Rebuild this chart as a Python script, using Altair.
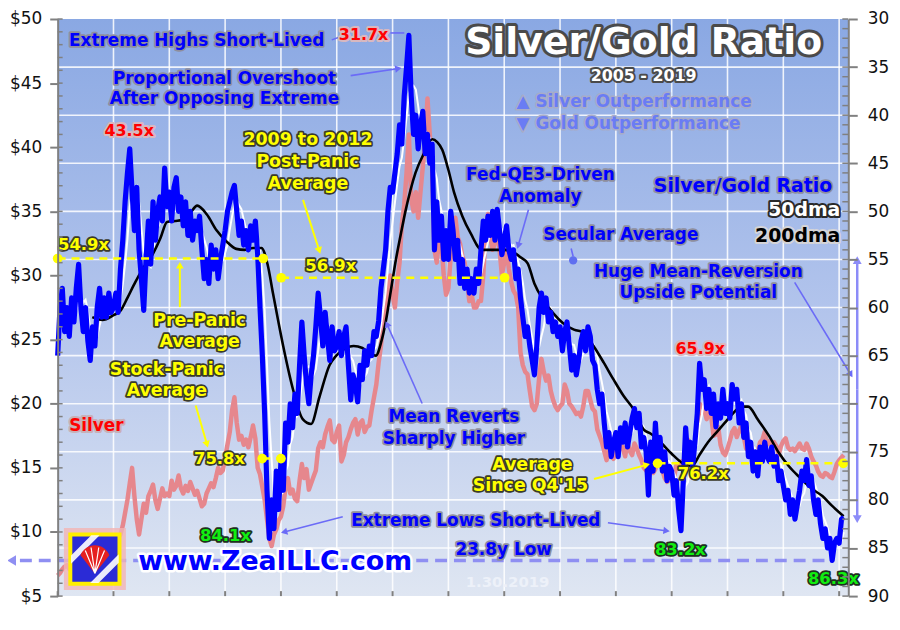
import math
import altair as alt
import pandas as pd

# ---------------- data (semi-monthly readings, Jan 2005 .. Jan 2019) ----------------
years = list(range(2005, 2020))

sgr_2005 = [65, 60, 58, 62.5, 60, 63, 59, 61.5, 58, 55.5, 60, 62.5, 60, 63.5, 65.5, 62, 64, 60, 58, 61, 59, 61, 58.5, 60.5]
sgr_2006 = [60, 58.5, 60.5, 56, 53, 49, 46, 43.5, 48, 52, 47.5, 54, 57, 60.3, 55, 51, 55.5, 49, 53, 50, 48.5, 51, 45.5, 49.5]
sgr_2007 = [48, 51, 47.5, 46.5, 50, 48.5, 51.5, 49, 52.5, 50, 53, 51, 52, 50.5, 54, 57, 55, 57.5, 53.5, 56, 54, 57, 55, 53.5]
sgr_2008 = [52, 50, 49, 48, 47.3, 50, 52.5, 51, 53.5, 52, 54, 51.5, 53, 51, 54.5, 60, 65, 71, 79, 84, 80, 83, 77, 81]
sgr_2009 = [76, 79, 72, 74, 70, 72.5, 69, 71, 66, 61.5, 65, 68, 70, 67, 65, 62, 58.5, 61, 64, 60.5, 63, 65.5, 62, 64.5]
sgr_2010 = [64, 62.5, 65, 63, 62, 66, 69.6, 67, 68, 69.8, 66, 67.5, 64.5, 66, 64, 65, 62.5, 63, 61.4, 58, 56, 54, 50, 47.5]
sgr_2011 = [48, 46, 44, 41, 43, 38, 35, 31.7, 38, 42, 40, 43.5, 41, 39.6, 44, 42, 45, 43, 54, 49, 53, 50.5, 55, 52]
sgr_2012 = [55, 50, 52, 55, 53, 57.5, 55, 58, 56, 58.5, 57, 58.5, 56, 57.5, 54, 51, 53, 50.5, 52.5, 50, 53, 49.8, 52, 54.5]
sgr_2013 = [53, 51.5, 54, 55, 54, 57, 56, 59, 61, 63, 62, 64, 65.5, 67, 64, 60, 58.5, 60.5, 59, 61.5, 60.5, 62.5, 61.5, 63]
sgr_2014 = [62, 64.5, 62.5, 61.5, 64, 66.5, 65, 67, 65.5, 63.5, 62.5, 64.5, 62, 63, 65.5, 66, 68.5, 70, 69, 72, 74.5, 73, 75.5, 74]
sgr_2015 = [73, 75.5, 72.5, 74, 72, 74.5, 73, 71.5, 70.5, 72.5, 71, 74.5, 73.5, 75, 79.5, 74, 77, 72, 76, 73.5, 77, 75, 78, 76.5]
sgr_2016 = [77, 79.5, 78, 81, 83.2, 78, 72.5, 76, 74, 76.5, 74, 71, 65.8, 68.5, 67.5, 70.5, 68.5, 71, 69, 72.4, 70, 71.5, 68.5, 71]
sgr_2017 = [70, 71.5, 68, 69.5, 68.5, 72, 70, 73.5, 72, 75.5, 74, 77, 75, 77.5, 74.5, 76, 74, 75.5, 76, 74.5, 76.5, 75.5, 78, 77]
sgr_2018 = [78.5, 80, 79, 81.5, 80, 82, 80.5, 79, 77, 78, 75.8, 78.5, 77.5, 80, 81.5, 80, 82.5, 84, 83, 85, 84, 86.3, 84.5, 84]
sgr_2019 = [84.5, 82, 81.8]

silver_2005 = [6.6, 6.8, 7.1, 7.3, 7.4, 7.1, 7.0, 7.2, 7.0, 7.3, 7.3, 7.1, 7.0, 7.2, 7.0, 6.9, 7.0, 7.2, 7.5, 7.7, 7.9, 8.2, 8.6, 8.8]
silver_2006 = [9.3, 9.6, 9.5, 9.8, 10.5, 11.5, 12.5, 13.8, 15.0, 12.8, 11.0, 9.8, 11.0, 12.2, 11.5, 12.8, 13.2, 13.7, 12.5, 11.8, 12.6, 13.4, 12.8, 13.0]
silver_2007 = [12.8, 14.0, 13.3, 13.6, 14.4, 13.4, 13.0, 13.6, 13.2, 13.9, 13.4, 12.9, 13.2, 12.6, 12.0, 12.2, 13.0, 13.4, 13.8, 13.5, 14.2, 15.0, 14.6, 14.8]
silver_2008 = [15.8, 16.8, 17.8, 19.5, 20.5, 18.5, 17.2, 17.5, 16.8, 17.2, 16.6, 17.4, 18.3, 17.3, 15.0, 14.5, 13.5, 12.5, 11.0, 9.5, 8.9, 9.8, 10.2, 10.9]
silver_2009 = [11.2, 12.0, 13.5, 14.2, 13.0, 13.3, 12.6, 12.4, 14.0, 15.3, 14.2, 14.9, 13.3, 13.8, 14.3, 14.8, 16.5, 17.0, 16.6, 17.6, 18.2, 18.7, 17.2, 17.0]
silver_2010 = [17.8, 18.3, 15.5, 16.0, 17.0, 17.4, 18.0, 18.5, 18.8, 17.6, 18.5, 18.7, 17.8, 18.2, 18.3, 19.5, 20.5, 21.5, 23.2, 24.5, 26.5, 27.5, 29.0, 30.0]
silver_2011 = [28.5, 27.5, 29.5, 31.0, 34.0, 35.5, 38.0, 41.0, 36.0, 35.0, 36.5, 34.5, 36.5, 38.5, 40.5, 43.8, 41.0, 38.5, 32.0, 31.0, 33.0, 32.5, 30.0, 28.5]
silver_2012 = [29.0, 31.5, 33.5, 34.5, 33.0, 32.5, 31.5, 31.0, 29.5, 28.0, 28.5, 27.5, 27.5, 28.0, 28.0, 30.0, 33.5, 34.8, 33.0, 32.0, 32.5, 34.0, 32.0, 30.0]
silver_2013 = [31.0, 32.0, 30.5, 29.5, 28.8, 28.5, 27.5, 24.0, 23.0, 22.5, 22.3, 21.0, 19.8, 19.5, 20.0, 22.0, 23.5, 22.5, 21.8, 22.2, 21.0, 20.3, 19.8, 19.5]
silver_2014 = [19.8, 20.0, 21.5, 21.0, 20.0, 19.8, 19.5, 19.2, 19.3, 19.0, 19.8, 21.0, 21.0, 20.3, 19.6, 19.4, 18.0, 17.5, 17.0, 16.3, 15.6, 16.4, 16.0, 15.7]
silver_2015 = [16.5, 17.6, 17.0, 16.5, 15.9, 17.0, 16.3, 16.0, 16.9, 16.5, 16.0, 15.6, 15.0, 14.8, 14.6, 15.0, 14.6, 14.9, 15.8, 16.2, 14.8, 14.2, 13.9, 14.1]
silver_2016 = [14.0, 14.2, 15.2, 15.0, 15.5, 15.3, 16.3, 17.2, 16.7, 16.0, 16.8, 17.7, 20.0, 19.8, 19.6, 18.8, 19.3, 19.0, 17.5, 17.6, 18.2, 16.8, 16.2, 16.0]
silver_2017 = [16.5, 17.1, 17.8, 18.1, 17.4, 17.9, 18.3, 17.4, 16.5, 16.9, 17.0, 16.4, 15.7, 16.3, 17.0, 17.2, 17.8, 16.8, 17.1, 16.8, 17.0, 16.7, 16.0, 16.7]
silver_2018 = [17.1, 17.3, 16.6, 16.4, 16.5, 16.3, 16.6, 16.9, 16.5, 16.4, 16.9, 16.5, 15.9, 15.5, 15.2, 14.7, 14.4, 14.3, 14.6, 14.5, 14.3, 14.2, 14.7, 15.3]
silver_2019 = [15.6, 15.8, 16.0]

# 200-day moving average of the ratio
dma200_t = [2005.62, 2005.8, 2006.0, 2006.13, 2006.25, 2006.37, 2006.52, 2006.67, 2006.84, 2006.96,
            2007.1, 2007.23, 2007.37, 2007.5, 2007.67, 2007.85, 2008.02, 2008.2, 2008.35, 2008.5,
            2008.65, 2008.76, 2008.86, 2009.04, 2009.22, 2009.39, 2009.54, 2009.69, 2009.87, 2009.99,
            2010.17, 2010.3, 2010.46, 2010.6, 2010.7, 2010.8, 2010.88, 2010.97, 2011.06, 2011.15,
            2011.23, 2011.32, 2011.41, 2011.56, 2011.71, 2011.8, 2011.89, 2012.0, 2012.1, 2012.25,
            2012.4, 2012.6, 2012.8, 2013.0, 2013.15, 2013.3, 2013.42, 2013.54, 2013.7, 2013.88,
            2014.05, 2014.25, 2014.43, 2014.6, 2014.78, 2014.96, 2015.14, 2015.32, 2015.5, 2015.62,
            2015.8, 2016.0, 2016.2, 2016.36, 2016.5, 2016.65, 2016.8, 2016.95, 2017.1, 2017.25,
            2017.37, 2017.55, 2017.75, 2017.92, 2018.1, 2018.3, 2018.5, 2018.7, 2018.87, 2019.08]
dma200_v = [61.0, 61.3, 60.8, 60.3, 59.0, 57.6, 56.0, 54.8, 52.8, 51.1,
            51.0, 50.9, 50.2, 49.4, 50.3, 52.0, 53.1, 53.9, 54.0, 53.8,
            53.8, 55.5, 58.6, 64.0, 68.6, 71.6, 72.1, 69.3, 66.0, 65.0,
            64.2, 64.0, 64.2, 64.8, 65.0, 63.5, 61.4, 58.2, 55.0, 52.3,
            50.0, 47.8, 46.0, 44.0, 42.5, 42.8, 43.6, 45.7, 48.0, 50.5,
            52.3, 54.0, 54.0, 54.0, 54.2, 54.8, 55.4, 57.5, 59.2, 60.6,
            61.6, 62.3, 62.6, 64.0, 65.7, 67.5, 69.2, 70.6, 72.7, 73.1,
            74.0, 75.2, 76.2, 76.5, 75.3, 74.0, 73.0, 72.0, 71.0, 70.3,
            70.3, 71.7, 73.4, 75.1, 76.5, 77.7, 78.8, 79.6, 80.6, 81.7]

# secular averages of the ratio: (value, start, end)
averages = [(54.9, 2005.0, 2008.683), (56.9, 2009.004, 2013.007), (75.7, 2008.665, 2009.0), (76.2, 2015.747, 2019.075)]

sgr = (sgr_2005 + sgr_2006 + sgr_2007 + sgr_2008 + sgr_2009 + sgr_2010 + sgr_2011 + sgr_2012
       + sgr_2013 + sgr_2014 + sgr_2015 + sgr_2016 + sgr_2017 + sgr_2018 + sgr_2019)
silver = (silver_2005 + silver_2006 + silver_2007 + silver_2008 + silver_2009 + silver_2010 + silver_2011
          + silver_2012 + silver_2013 + silver_2014 + silver_2015 + silver_2016 + silver_2017 + silver_2018 + silver_2019)
t = [2005 + i / 24 for i in range(len(sgr))]
df = pd.DataFrame({"t": t, "sgr": sgr, "silver": silver})
df200 = pd.DataFrame({"t": dma200_t, "v": dma200_v})

# ---------------- layout ----------------
W, H = 796, 581
X0, X1 = 2005.0, 2019.164
FONT = "DejaVu Sans"
AX = "#808080"
PX_YR = W / (X1 - X0)
PX_R = H / 60.0

xs = alt.Scale(domain=[X0, X1], nice=False, zero=False)
ys_r = alt.Scale(domain=[30, 90], reverse=True, nice=False, zero=False)
ys_s = alt.Scale(domain=[5, 50], nice=False, zero=False)

def X(f="t"):
    return alt.X(f"{f}:Q", scale=xs, axis=None)

def YR(f="r"):
    return alt.Y(f"{f}:Q", scale=ys_r, axis=None)

layers = []

# background gradient
bg = alt.Chart(alt.Data(values=[{"a": 1}])).mark_rect(
    fill=alt.LinearGradient(gradient="linear", x1=0, x2=0, y1=0, y2=1,
                            stops=[alt.GradientStop(color="#8aa8e3", offset=0),
                                   alt.GradientStop(color="#b2c4ec", offset=0.5),
                                   alt.GradientStop(color="#dfe6f2", offset=1)])
).encode(x=alt.value(0), x2=alt.value(W), y=alt.value(0), y2=alt.value(H))
layers.append(bg)

# grid
gv = alt.Chart(pd.DataFrame({"v": years[1:]})).mark_rule(color="white", strokeWidth=1.6, opacity=0.85).encode(x=X("v"))
gh = alt.Chart(pd.DataFrame({"v": list(range(35, 90, 5))})).mark_rule(color="white", strokeWidth=1.6, opacity=0.85).encode(y=YR("v"))
layers += [gv, gh]

axis_common = dict(domainColor=AX, domainWidth=2, tickColor=AX, tickWidth=2, labelFont=FONT,
                   labelColor="#111", grid=False, title=None, labelFlush=False, labelOverlap=False, zindex=1,
                   labelFontSize=17)

x_axis = alt.Axis(values=years, labelExpr="substring(toString(datum.value), 2, 4)", tickSize=5,
                  labelPadding=2, **axis_common)
left_axis = alt.Axis(orient="left", values=list(range(5, 55, 5)), labelExpr="'$' + datum.value",
                     tickSize=8, labelPadding=8, **axis_common)
right_axis = alt.Axis(orient="right", values=list(range(30, 95, 5)), tickSize=9, labelPadding=10,
                      **axis_common)

silver_line = alt.Chart(df).mark_line(color="#e6878d", strokeWidth=4.5, strokeJoin="round").encode(
    x=alt.X("t:Q", scale=xs, axis=x_axis), y=alt.Y("silver:Q", scale=ys_s, axis=left_axis))
layers.append(silver_line)

ma50 = alt.Chart(df).transform_window(ma="mean(sgr)", frame=[-4, 0], sort=[alt.SortField("t")]).mark_line(
    color="white", strokeWidth=2).encode(x=X(), y=YR("ma"))
layers.append(ma50)

ma200 = alt.Chart(df200).mark_line(color="black", strokeWidth=2.6, interpolate="monotone").encode(x=X(), y=YR("v"))
layers.append(ma200)

blue = alt.Chart(df).mark_line(color="#0000ff", strokeWidth=5.2, strokeJoin="round").encode(
    x=X(), y=alt.Y("sgr:Q", scale=ys_r, axis=right_axis))
layers.append(blue)

# yellow secular average lines with end dots
avg_rows, dot_rows = [], []
for k, (v, a, b) in enumerate(averages):
    avg_rows += [{"id": k, "t": a, "r": v}, {"id": k, "t": b, "r": v}]
    dot_rows += [{"t": a, "r": v}, {"t": b, "r": v}]
avg_df = pd.DataFrame(avg_rows)
layers.append(alt.Chart(avg_df).mark_line(color="#ffff00", strokeWidth=2.5, strokeDash=[8, 6]).encode(
    x=X(), y=YR(), detail="id:N"))
layers.append(alt.Chart(pd.DataFrame(dot_rows)).mark_circle(color="#ffff00", size=95, opacity=1).encode(x=X(), y=YR()))

# arrows
def arrows(segs, color, width, head, dash=None, ends=True):
    lr, hr = [], []
    for k, (t1, r1, t2, r2) in enumerate(segs):
        lr += [{"id": k, "o": 0, "t": t1, "r": r1}, {"id": k, "o": 1, "t": t2, "r": r2}]
        dx = (t2 - t1) * PX_YR
        dy = (r2 - r1) * PX_R
        hr.append({"t": t2, "r": r2, "a": math.degrees(math.atan2(dx, -dy)) % 360})
    kw = dict(color=color, strokeWidth=width)
    if dash:
        kw["strokeDash"] = dash
    out = [alt.Chart(pd.DataFrame(lr)).mark_line(**kw).encode(x=X(), y=YR(), detail="id:N", order="o:Q")]
    if ends:
        out.append(alt.Chart(pd.DataFrame(hr)).mark_point(shape="triangle", filled=True, color=color,
                                                         size=head, opacity=1).encode(
            x=X(), y=YR(), angle=alt.Angle("a:Q", scale=None)))
    return out

BLUEA = "#6b6bf7"
layers += arrows([(2010.249, 35.89, 2011.085, 35.17), (2013.434, 49.83, 2013.256, 53.45),
                  (2011.53, 69.98, 2010.907, 61.82), (2010.107, 81.76, 2009.075, 83.31),
                  (2014.858, 82.38, 2015.89, 83.2), (2018.203, 57.38, 2019.199, 66.88)],
                 BLUEA, 1.6, 55)
layers += arrows([(2009.911, 32.17, 2010.053, 31.86), (2010.961, 31.45, 2011.21, 31.45),
                  (2014.199, 53.86, 2014.235, 54.69)], BLUEA, 1.6, 0, ends=False)
layers.append(alt.Chart(pd.DataFrame([{"t": 2014.235, "r": 55.1}])).mark_circle(
    color="#5f6ff0", size=70, opacity=1).encode(x=X(), y=YR()))
layers += arrows([(2019.324, 68.5, 2019.324, 55.21), (2019.324, 68.5, 2019.324, 81.86)], "#8c8cf8", 2.5, 80)
layers += arrows([(2009.395, 48.8, 2009.68, 53.97), (2007.189, 59.96, 2007.189, 55.72),
                  (2007.473, 70.19, 2007.669, 74.11), (2014.609, 77.83, 2015.534, 76.38)],
                 "#ffff00", 2, 60)
layers += arrows([(2018.737, 86.3, 2004.2, 86.3)], "#8f8ff2", 3.5, 110, dash=[12, 7])

# logo
logo_t, logo_r = 2005.667, 86.15
lg = pd.DataFrame([{"t": logo_t, "r": logo_r}])
layers.append(alt.Chart(lg).mark_point(shape="square", filled=True, color="#f2b4b4", size=3900, opacity=0.8).encode(x=X(), y=YR()))
layers.append(alt.Chart(lg).mark_point(shape="square", filled=True, fill="#2b2bd6", stroke="#ffee00",
                                       strokeWidth=4, size=2450, opacity=1).encode(x=X(), y=YR()))
layers.append(alt.Chart(lg).mark_point(
    shape="M-1,-0.15 L-0.15,-1 L0.2,-1 L-1,0.2 Z M1,0.15 L0.15,1 L-0.2,1 L1,-0.2 Z",
    filled=True, color="white", size=2300, opacity=0.9).encode(x=X(), y=YR()))
shell = "M0,0.75 L-0.75,-0.2 A0.8,0.8 0 0 1 0.75,-0.2 Z"
layers.append(alt.Chart(lg).mark_point(shape=shell, filled=True, color="#e52020", size=1500, opacity=1).encode(x=X(), y=YR()))
layers.append(alt.Chart(lg).mark_point(
    shape="M0,0.75 L-0.5,-0.45 M0,0.75 L-0.2,-0.6 M0,0.75 L0.2,-0.6 M0,0.75 L0.5,-0.45",
    filled=False, stroke="white", strokeWidth=1.2, size=1500, opacity=1).encode(x=X(), y=YR()))

# text
def txt(rows, size, fill, halo=None, halo_w=3.5, align="center", weight="bold"):
    d = pd.DataFrame(rows, columns=["label", "t", "r"])
    enc = dict(x=X(), y=YR(), text="label:N")
    common = dict(fontSize=size, font=FONT, fontWeight=weight, align=align, baseline="middle")
    out = []
    if halo:
        out.append(alt.Chart(d).mark_text(fill=halo, stroke=halo, strokeWidth=halo_w, strokeJoin="round",
                                          **common).encode(**enc))
    out.append(alt.Chart(d).mark_text(fill=fill, **common).encode(**enc))
    return out

layers += txt([("Extreme Highs Short-Lived", 2007.491, 32.27),
               ("Proportional Overshoot", 2007.989, 36.2),
               ("After Opposing Extreme", 2007.989, 38.37),
               ("Fed-QE3-Driven", 2013.648, 46.22),
               ("Anomaly", 2013.648, 48.49),
               ("Secular Average", 2015.089, 52.42),
               ("Huge Mean-Reversion", 2016.477, 56.34),
               ("Upside Potential", 2016.477, 58.51),
               ("Mean Reverts", 2012.1, 71.43),
               ("Sharply Higher", 2012.1, 73.7),
               ("Extreme Lows Short-Lived", 2012.491, 82.17),
               ("23.8y Low", 2012.989, 85.17)], 17, "#0000ff", "#8e8e9e", 3.5)
layers += txt([("Silver/Gold Ratio", 2017.278, 47.36)], 19, "#0000ff", "#8e8e9e", 3.5)
layers += txt([("31.7x", 2010.48, 31.65), ("43.5x", 2006.281, 41.67), ("65.9x", 2016.512, 64.3)],
              16, "#ff0000", "#d8b8c0", 4)
layers += txt([("Silver", 2005.694, 72.36)], 17, "#ff0000", "#c8b0b8", 4)
layers += txt([("2009 to 2012", 2009.484, 42.6), ("Post-Panic", 2009.484, 44.88), ("Average", 2009.484, 47.15),
               ("Pre-Panic", 2007.544, 61.4), ("Average", 2007.544, 63.57),
               ("Stock-Panic", 2006.957, 66.47), ("Average", 2006.957, 68.64),
               ("Average", 2013.505, 76.38), ("Since Q4'15", 2013.47, 78.55)], 17.5, "#ffff00", "#3a3a2a", 3.5)
layers += txt([("54.9x", 2005.463, 53.55), ("56.9x", 2009.893, 55.72), ("75.8x", 2007.9, 75.76),
               ("76.2x", 2016.566, 77.31)], 16.5, "#ffff00", "#3a3a2a", 3.5)
layers += txt([("84.1x", 2008.007, 83.72), ("83.2x", 2016.157, 85.17), ("86.3x", 2018.897, 88.27)],
              16.5, "#11ee11", "#203020", 3.5)
layers += txt([("\u25b2 Silver Outperformance", 2013.221, 38.68), ("\u25bc Gold Outperformance", 2013.221, 40.95)],
              17, "#6a7cf4", "#a8acc8", 3, align="left")
layers += txt([("Silver/Gold Ratio", 2015.498, 32.48)], 38, "white", "#4a4a4a", 6)
layers += txt([("2005 - 2019", 2015.498, 35.89)], 16, "white", "#4a4a4a", 4)
layers += txt([("50dma", 2019.021, 49.83)], 19, "white", "#2a2a2a", 4, align="right")
layers += txt([("200dma", 2019.021, 52.52)], 19, "black", "#d4d4d8", 4, align="right")
layers += txt([("www.ZealLLC.com", 2008.897, 86.51)], 27, "#0000ff", "white", 5)
layers += txt([("1.30.2019", 2013.06, 88.57)], 15, "#edf1f9")

# inner ticks
layers.append(alt.Chart(pd.DataFrame({"v": list(range(5, 51))})).mark_rule(color=AX, strokeWidth=1.5).encode(
    y=alt.Y("v:Q", scale=ys_s, axis=None), x=alt.value(0), x2=alt.value(5)))
layers.append(alt.Chart(pd.DataFrame({"v": list(range(30, 91))})).mark_rule(color=AX, strokeWidth=1.5).encode(
    y=YR("v"), x=alt.value(W - 6), x2=alt.value(W)))
layers.append(alt.Chart(pd.DataFrame({"v": years})).mark_rule(color=AX, strokeWidth=2).encode(
    x=X("v"), y=alt.value(H - 5), y2=alt.value(H)))

chart = alt.layer(*layers).resolve_scale(y="independent").properties(
    width=W, height=H,
    padding={"left": 50, "top": 9, "right": 44, "bottom": 24},
    autosize=alt.AutoSizeParams(type="none"),
    background="white",
).configure_view(strokeWidth=0)

chart.save("out.html", embed_options={"renderer": "svg", "actions": False})
